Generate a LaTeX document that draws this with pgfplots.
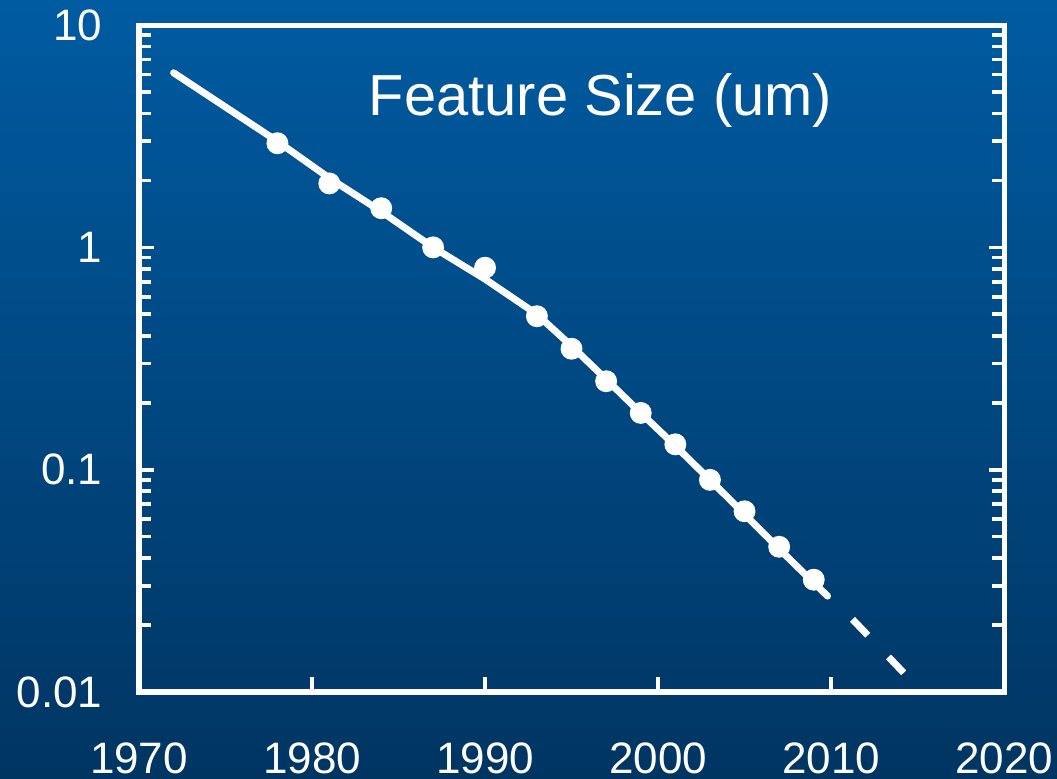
\documentclass[border=0pt]{standalone}
\usepackage{pgfplots}
\pgfplotsset{compat=1.18}
\usepackage{fontspec}
\setmainfont{Liberation Sans}
\definecolor{bgtop}{RGB}{0,91,161}
\definecolor{bgbot}{RGB}{0,53,98}
\begin{document}
\begin{tikzpicture}
\shade[top color=bgtop, bottom color=bgbot] (-52.125pt,-32.625pt) rectangle (344.25pt,259.5pt);
\path[use as bounding box] (-52.125pt,-32.625pt) rectangle (344.25pt,259.5pt);
\begin{axis}[
  at={(0,0)}, anchor=south west, scale only axis,
  width=324.4pt, height=250.1pt,
  ymode=log, xmin=1970, xmax=2020, ymin=0.01, ymax=10,
  axis line style={white, line width=1.9pt},
  xtick={1970,1980,1990,2000,2010,2020},
  xticklabels={1970,1980,1990,2000,2010,2020},
  ytick={0.01,0.1,1,10}, yticklabels={0.01,0.1,1,10},
  minor ytick={0.02,0.03,0.04,0.05,0.06,0.07,0.08,0.09,0.2,0.3,0.4,0.5,0.6,0.7,0.8,0.9,2,3,4,5,6,7,8,9},
  xtick pos=bottom, ytick pos=both,
  tick align=inside,
  major tick length=5.5pt, minor tick length=4.5pt,
  tick style={white, line width=1.4pt},
  ticklabel style={font=\fontsize{16.5}{18}\selectfont, text=white},
  yticklabel style={anchor=east, inner sep=0pt, xshift=-13.5pt},
  xticklabel style={anchor=base, inner sep=0pt, yshift=-30.5pt},
  clip=false,
]
\addplot[white, line width=2.6pt, line cap=round, line join=round] coordinates {
(1972,6.1) (1978,3.0) (1981,2.05) (1984,1.45) (1987,1.0) (1990,0.72) (1993,0.5)
(1995,0.36) (1997,0.255) (1999,0.18) (2001,0.128) (2003,0.09) (2005,0.063)
(2007,0.044) (2009,0.031) (2009.8,0.027)
};
\addplot[white, line width=2.6pt, dash pattern=on 8.25pt off 11.25pt] coordinates {
(2014.2,0.0122) (2010.3,0.0253)
};
\addplot[only marks, mark=*, mark size=3.9pt, mark options={fill=white, draw=white}] coordinates {
(1978,2.94) (1981,1.94) (1984,1.5) (1987,1.0) (1990,0.81) (1993,0.49) (1995,0.35)
(1997,0.25) (1999,0.18) (2001,0.13) (2003,0.09) (2005,0.065) (2007,0.045) (2009,0.032)
};
\node[anchor=base, text=white, font=\fontsize{21.7}{24}\selectfont] at (rel axis cs:0.5335,0.865) {Feature Size (um)};
\end{axis}
\end{tikzpicture}
\end{document}
